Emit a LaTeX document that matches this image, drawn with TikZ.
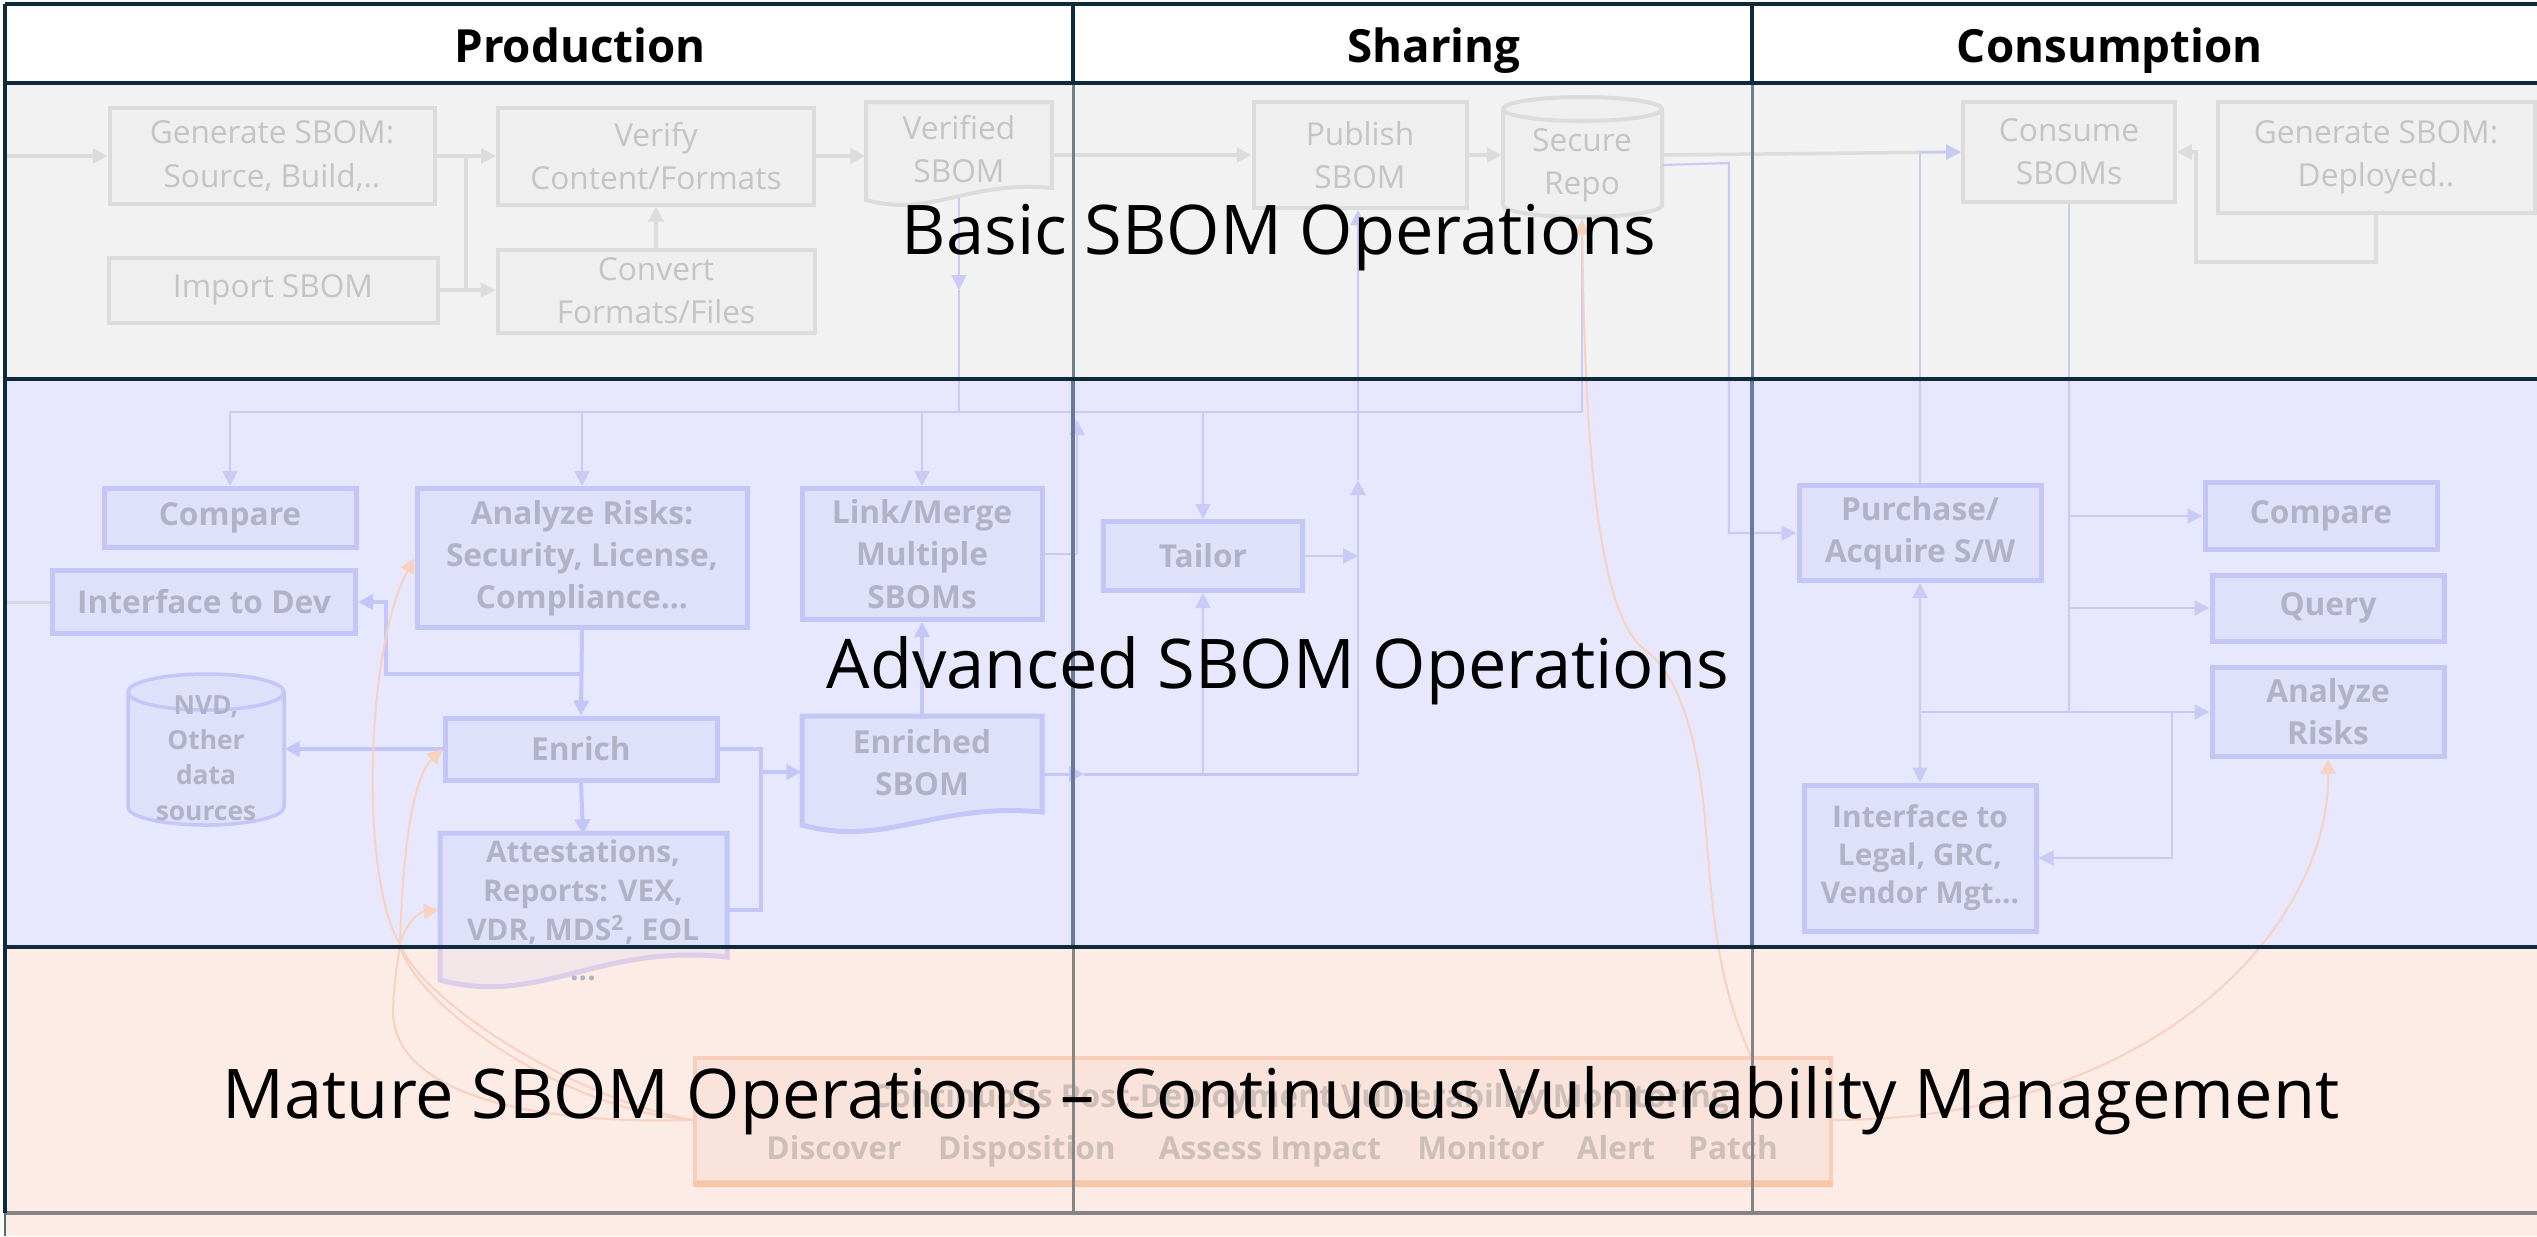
\documentclass[tikz,border=0pt]{standalone}
\usepackage{fontspec}
\setmainfont{Open Sans}
\usetikzlibrary{arrows.meta,calc}

\definecolor{framedark}{HTML}{0F2A3B}
\definecolor{divtop}{HTML}{6F7F8C}
\definecolor{divmid}{HTML}{687A99}
\definecolor{divlow}{HTML}{858585}
\definecolor{rowbasic}{HTML}{F2F2F2}
\definecolor{rowadv}{HTML}{E7E8FD}
\definecolor{rowmat}{HTML}{FCECE5}
\definecolor{gline}{HTML}{DCDCDC}
\definecolor{gfill}{HTML}{EFEFEF}
\definecolor{gtext}{HTML}{C4C4C4}
\definecolor{bline}{HTML}{C4C6F7}
\definecolor{bfill}{HTML}{DFE0FA}
\definecolor{btext}{HTML}{B2B2C6}
\definecolor{bthin}{HTML}{C9CBF6}
\definecolor{oline}{HTML}{F8CDBA}
\definecolor{ofill}{HTML}{F9E3DA}
\definecolor{otext}{HTML}{CDBEB8}
\definecolor{ocurve}{HTML}{F7D2C1}
\definecolor{pfill}{HTML}{F2E6E8}
\definecolor{pline}{HTML}{DCCDE8}

\tikzset{
  gbox/.style={draw=gline, fill=gfill, line width=0.4mm, text=gtext, align=center,
    inner sep=0pt, font=\fontsize{9}{12.3}\selectfont},
  bbox/.style={draw=bline, fill=bfill, line width=0.5mm, text=btext, align=center,
    inner sep=0pt, font=\bfseries\fontsize{9}{12}\selectfont},
  gtxt/.style={text=gtext, align=center, inner sep=0pt, font=\fontsize{9}{12.3}\selectfont},
  btxt/.style={text=btext, align=center, inner sep=0pt, font=\bfseries\fontsize{9}{12}\selectfont},
  gflow/.style={draw=gline, line width=0.35mm},
  bflow/.style={draw=bline, line width=0.4mm},
  bmid/.style={draw=bline, line width=0.3mm},
  bthinflow/.style={draw=bthin, line width=0.22mm},
  ocurveflow/.style={draw=ocurve, line width=0.2mm},
  tip/.style={-{Triangle[length=1.5mm,width=1.5mm]}},
  headtxt/.style={font=\bfseries\fontsize{13}{16}\selectfont, text=black, inner sep=0pt, anchor=base},
  rowtxt/.style={font=\fontsize{19.5}{24}\selectfont, text=black, inner sep=0pt, anchor=base},
}

\begin{document}
\begin{tikzpicture}[x=0.1mm,y=-0.1mm]
\useasboundingbox (0,0) rectangle (2537,1236);

% ---------- swimlane backgrounds ----------
\fill[white] (5,4) rectangle (2537,83);
\fill[rowbasic] (5,83) rectangle (2537,379);
\fill[rowadv] (5,379) rectangle (2537,947);
\fill[rowmat] (5,947) rectangle (2537,1236);

% ---------- basic operations ----------
\node[gbox, minimum width=32.5mm, minimum height=9.6mm] (gensrc) at (272,156) {Generate SBOM:\\Source, Build,..};
\node[gbox, minimum width=32.9mm, minimum height=6.5mm] (import) at (273,290) {Import SBOM};
\node[gbox, minimum width=31.6mm, minimum height=9.7mm] (verify) at (656,156) {Verify\\Content/Formats};
\node[gbox, minimum width=31.7mm, minimum height=8.3mm] (convert) at (656,291) {Convert\\Formats/Files};
\draw[gline, fill=gfill, line width=0.4mm] (866,102) -- (1052,102) -- (1052,188)
  .. controls (968,180) and (931,218) .. (866,200) -- cycle;
\node[gtxt, minimum width=18.6mm, minimum height=9.6mm] (verified) at (959,149) {Verified\\SBOM};
\node[gbox, minimum width=21.3mm, minimum height=10.6mm] (publish) at (1360,155) {Publish\\SBOM};
% secure repository drum
\draw[gline, fill=gfill, line width=0.4mm] (1503,109) -- (1503,205)
  arc[start angle=180, end angle=360, x radius=7.95mm, y radius=1.2mm] -- (1662,109)
  arc[start angle=0, end angle=180, x radius=7.95mm, y radius=1.2mm] -- cycle;
\draw[gline, line width=0.4mm] (1503,109) arc[start angle=180, end angle=360, x radius=7.95mm, y radius=1.2mm];
\node[gtxt, minimum width=15.9mm, minimum height=10.8mm] (repo) at (1582,165) {Secure\\Repo};
\node[gbox, minimum width=21.2mm, minimum height=10mm] (consume) at (2069,152) {Consume\\SBOMs};
\node[gbox, minimum width=31.7mm, minimum height=11.1mm] (gendep) at (2376,157) {Generate SBOM:\\Deployed..};

\coordinate (leftin) at (5,156);
\coordinate (j1) at (466,156);
\coordinate (loopc) at (2196,262);
\draw[gflow, tip] (leftin) -- (gensrc.west);
\draw[gflow, tip] (gensrc.east) -- (verify.west);
\draw[gflow] (j1) -- (j1 |- import.east);
\draw[gflow, tip] (import.east) -- (convert.west |- import.east);
\draw[gflow, tip] (convert.north) -- (verify.south);
\draw[gflow, tip] (verify.east) -- (verify.east -| verified.west);
\draw[gflow, tip] (verified.east |- publish.west) -- (publish.west);
\draw[gflow, tip] (publish.east) -- (publish.east -| repo.west);
\draw[gflow, tip] (repo.east |- publish.east) -- (consume.west);
\draw[gflow, tip] (gendep.south) |- (loopc) -- (loopc |- consume.east) -- (consume.east);

% ---------- advanced operations ----------
\node[bbox, minimum width=25.2mm, minimum height=5.9mm] (cmpP) at (230,518) {Compare};
\node[bbox, minimum width=30.3mm, minimum height=6.3mm] (ifdev) at (204,602) {Interface to Dev};
\node[bbox, minimum width=33mm, minimum height=13.9mm] (analyze) at (582,558) {Analyze Risks:\\Security, License,\\Compliance...};
\node[bbox, minimum width=24mm, minimum height=13.1mm] (link) at (922,554) {Link/Merge\\Multiple\\SBOMs};
% external data sources drum
\draw[bline, fill=bfill, line width=0.35mm] (128,692) -- (128,807)
  arc[start angle=180, end angle=360, x radius=7.8mm, y radius=1.8mm] -- (284,692)
  arc[start angle=0, end angle=180, x radius=7.8mm, y radius=1.8mm] -- cycle;
\draw[bline, line width=0.35mm] (128,692) arc[start angle=180, end angle=360, x radius=7.8mm, y radius=1.8mm];
\node[btxt, font=\bfseries\fontsize{7.5}{10}\selectfont, minimum width=15.6mm, minimum height=13.3mm] (nvd) at (206,758) {NVD,\\Other\\data\\sources};
\node[bbox, minimum width=27.2mm, minimum height=6.2mm] (enrich) at (581,749) {Enrich};
% attestation document, partly reaching into the lower lane
\begin{scope}
  \clip (0,0) rectangle (2537,947);
  \draw[bline, fill=bfill, line width=0.5mm] (440,833) -- (727,833) -- (727,957)
    .. controls (598,943) and (540,1007) .. (440,980) -- cycle;
\end{scope}
\begin{scope}
  \clip (0,947) rectangle (2537,1236);
  \draw[pline, fill=pfill, line width=0.5mm] (440,833) -- (727,833) -- (727,957)
    .. controls (598,943) and (540,1007) .. (440,980) -- cycle;
\end{scope}
\node[btxt, font=\bfseries\fontsize{8.5}{11.2}\selectfont, minimum width=28.7mm, minimum height=15mm] (attest) at (583,910)
  {Attestations,\\Reports: VEX,\\VDR, MDS\textsuperscript{2}, EOL\\...};
\draw[bline, fill=bfill, line width=0.5mm] (802,716) -- (1042,716) -- (1042,812)
  .. controls (934,802) and (886,848) .. (802,825) -- cycle;
\node[btxt, minimum width=24mm, minimum height=9.4mm] (enriched) at (922,763) {Enriched\\SBOM};
\node[bbox, minimum width=19.9mm, minimum height=6.9mm] (tailor) at (1203,556) {Tailor};
\node[bbox, minimum width=24.2mm, minimum height=9.5mm] (purchase) at (1920,533) {Purchase/\\Acquire S/W};
\node[bbox, minimum width=23.2mm, minimum height=6.7mm] (cmpC) at (2321,516) {Compare};
\node[bbox, minimum width=23.2mm, minimum height=6.6mm] (query) at (2328,608) {Query};
\node[bbox, minimum width=23.2mm, minimum height=8.9mm] (analyzeC) at (2328,712) {Analyze\\Risks};
\node[bbox, font=\bfseries\fontsize{8.5}{10.8}\selectfont, minimum width=23.2mm, minimum height=14.6mm] (legal) at (1920,858) {Interface to\\Legal, GRC,\\Vendor Mgt...};

% thin distribution lines
\coordinate (vdrop) at (959,290);
\coordinate (bus0) at (230,412);
\coordinate (bus1) at (1582,412);
\coordinate (lkup) at (1077,554);
\coordinate (rpc) at (1729,163);
\coordinate (lg) at (2172,712);
\draw[bthinflow, tip] (verified.south) -- (vdrop);
\draw[bthinflow] (vdrop) -- (vdrop |- bus0);
\draw[bthinflow] (bus0) -- (bus1);
\draw[bthinflow, tip] (bus0) -- (cmpP.north);
\draw[bthinflow, tip] (analyze.north |- bus0) -- (analyze.north);
\draw[bthinflow, tip] (link.north |- bus0) -- (link.north);
\draw[bthinflow, tip] (tailor.north |- bus0) -- (tailor.north);
\draw[bthinflow, tip] (bus1) -- (repo.south);
\draw[bthinflow] (link.east) -- (lkup);
\draw[bthinflow, tip] (lkup) -- ($(lkup |- bus0)+(0,8)$);
\draw[bthinflow, tip] (repo.east) -- (rpc) -- (rpc |- purchase.west) -- (purchase.west);
\draw[bthinflow, tip] (purchase.north) -- (purchase.north |- consume.west) -- (consume.west);
\draw[bthinflow] (consume.south) -- (consume.south |- analyzeC.west);
\draw[bthinflow, tip] (consume.south |- cmpC.west) -- (cmpC.west);
\draw[bthinflow, tip] (consume.south |- query.west) -- (query.west);
\draw[bthinflow, tip] (purchase.south |- analyzeC.west) -- (analyzeC.west);
\draw[bthinflow, {Triangle[length=1.5mm,width=1.5mm]}-{Triangle[length=1.5mm,width=1.5mm]}] (purchase.south) -- (legal.north);
\draw[bthinflow, tip] (lg) |- (legal.east);

% heavier production flows
\coordinate (ak) at (582,674);
\coordinate (ak2) at (386,674);
\coordinate (ej) at (761,749);
\coordinate (ej2) at (761,772);
\coordinate (eo) at (1042,774);
\coordinate (ea) at (1084,774);
\coordinate (pubx) at (1358,774);
\coordinate (pm) at (1358,480);
\coordinate (leftdev) at (5,602);
\draw[gline!80!bthin, line width=0.3mm] (leftdev) -- (ifdev.west);
\draw[bflow, tip] (analyze.south) -- (enrich.north);
\draw[bflow, tip] (ak) -- (ak2) |- (ifdev.east);
\draw[bflow, tip] (enrich.west) -- (enrich.west -| nvd.east);
\draw[bflow, tip] (enrich.south) -- (attest.north);
\draw[bflow] (enrich.east) -- (ej) -- (ej |- attest.east) -- (attest.east);
\draw[bflow, tip] (ej2) -- (ej2 -| enriched.west);
\draw[bflow, tip] (enriched.north) -- (link.south);
\draw[bmid, tip] (eo) -- (ea);
\draw[bmid] (ea) -- (pubx);
\draw[bthinflow, tip] (tailor.south |- pubx) -- (tailor.south);
\draw[bthinflow, tip] (tailor.east) -- (tailor.east -| pubx);
\draw[bthinflow, tip] (pubx) -- (pm);
\draw[bthinflow, tip] (pm) -- (pm |- publish.south);

% ---------- mature operations ----------
\node[draw=oline, fill=ofill, line width=0.4mm, minimum width=113.6mm, minimum height=12.4mm] (cvm) at (1263,1120) {};
\draw[oline!90!orange, line width=0.6mm] (cvm.south west) -- (cvm.south east);
\node[text=otext, font=\bfseries\fontsize{9}{11}\selectfont, inner sep=0pt, anchor=base] (cvmtitle) at (1300,1107)
  {Continuous Post-Deployment Vulnerability Monitoring};
\begin{scope}[every node/.style={text=otext, font=\bfseries\fontsize{9}{11}\selectfont, inner sep=0pt, anchor=base}]
  \node (discover) at (834,1159) {Discover};
  \node (disposition) at (1027,1159) {Disposition};
  \node (assess) at (1270,1159) {Assess Impact};
  \node (monitor) at (1481,1159) {Monitor};
  \node (alert) at (1616,1159) {Alert};
  \node (patch) at (1733,1159) {Patch};
\end{scope}

% feedback curves from continuous monitoring
\coordinate (hub) at (400,944);
\coordinate (loopl) at (393,1010);
\coordinate (rpin) at (1752,1058);
\draw[ocurveflow] (cvm.west) .. controls (520,1125) and (392,1090) .. (loopl) .. controls (394,980) and (398,960) .. (hub);
\draw[ocurveflow] (cvm.west) .. controls (560,1110) and (410,1000) .. (hub);
\draw[ocurveflow] (cvm.west) .. controls (575,1100) and (420,1000) .. (hub);
\draw[ocurveflow, tip] (hub) .. controls (360,880) and (365,650) .. (analyze.west);
\draw[ocurveflow, tip] (hub) .. controls (402,870) and (410,780) .. (enrich.west);
\draw[ocurveflow, tip] (hub) .. controls (405,925) and (418,912) .. (attest.west);
\draw[ocurveflow, tip] (rpin) .. controls (1715,980) and (1712,900) .. (1705,820)
  .. controls (1695,700) and (1662,662) .. (1645,650)
  .. controls (1598,615) and (1585,450) .. (repo.south);
\draw[ocurveflow, tip] (cvm.east) .. controls (2150,1120) and (2330,930) .. (analyzeC.south);

% ---------- lane grid ----------
\draw[divtop, line width=0.3mm] (1073,83) -- (1073,379) (1752,83) -- (1752,379);
\draw[divmid, line width=0.32mm] (1073,379) -- (1073,947) (1752,379) -- (1752,947);
\draw[divlow, line width=0.3mm] (1073,947) -- (1073,1213) (1752,947) -- (1752,1213);
\draw[framedark, line width=0.35mm] (1073,4) -- (1073,83) (1752,4) -- (1752,83);
\draw[framedark, line width=0.4mm] (5,4) -- (2537,4);
\draw[framedark, line width=0.4mm] (5,83) -- (2537,83);
\draw[framedark, line width=0.35mm] (5,379) -- (2537,379);
\draw[framedark, line width=0.45mm] (5,947) -- (2537,947);
\draw[divlow, line width=0.45mm] (5,1213) -- (2537,1213);
\draw[framedark, line width=0.45mm] (5,4) -- (5,1213);
\draw[framedark!70, line width=0.15mm] (5,1213) -- (5,1236);

% ---------- lane titles ----------
\node[headtxt] (hprod) at (580,62) {Production};
\node[headtxt] (hshare) at (1434,62) {Sharing};
\node[headtxt] (hcons) at (2110,62) {Consumption};
\node[rowtxt] (lbasic) at (1279,254) {Basic SBOM Operations};
\node[rowtxt] (ladv) at (1278,688) {Advanced SBOM Operations};
\node[rowtxt] (lmature) at (1281,1118) {Mature SBOM Operations – Continuous Vulnerability Management};
\end{tikzpicture}
\end{document}
